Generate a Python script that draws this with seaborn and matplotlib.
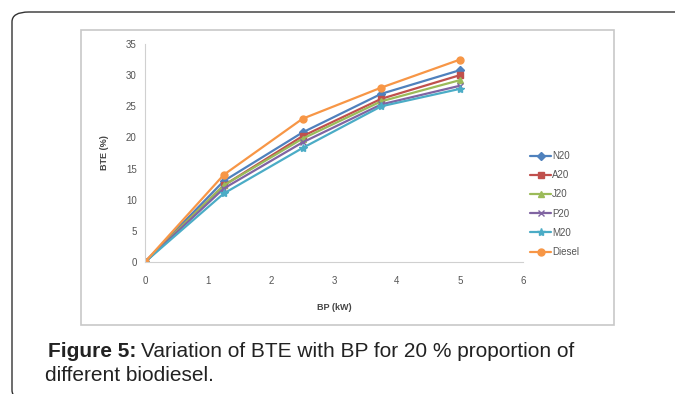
import pandas as pd
import numpy as np
import matplotlib
matplotlib.use("Agg")
import matplotlib.pyplot as plt
import seaborn as sns
from matplotlib.patches import FancyBboxPatch, Rectangle

# -------------------- Data --------------------
bp_kw = [0, 1.25, 2.5, 3.75, 5]
n20 = [0, 13.0, 20.8, 27.0, 30.8]
a20 = [0, 12.3, 20.2, 26.2, 30.0]
j20 = [0, 12.3, 19.8, 25.8, 29.2]
p20 = [0, 11.8, 19.2, 25.3, 28.3]
m20 = [0, 11.0, 18.3, 25.0, 27.8]
diesel = [0, 14.0, 23.0, 28.0, 32.5]

series_names = ["N20", "A20", "J20", "P20", "M20", "Diesel"]
series_values = [n20, a20, j20, p20, m20, diesel]
colors = ["#4F81BD", "#C0504D", "#9BBB59", "#8064A2", "#4BACC6", "#F79646"]
markers = ["D", "s", "^", "x", "*", "o"]
marker_sizes = [4, 4, 5, 5, 6, 5]

df = pd.concat(
    [pd.DataFrame({"BP": bp_kw, "BTE": vals, "fuel": name})
     for name, vals in zip(series_names, series_values)],
    ignore_index=True,
)

# -------------------- Plot --------------------
sns.set_style("white")
plt.rcParams["font.family"] = ["Liberation Sans", "DejaVu Sans"]

fig = plt.figure(figsize=(6.75, 3.94), dpi=100)

# outer rounded frame (runs off the right and bottom edges) and chart box
fig.patches.append(FancyBboxPatch((12 / 675, 1 - 400 / 394), 680 / 675, 388 / 394,
                                  boxstyle="round,pad=0,rounding_size=0.025",
                                  transform=fig.transFigure, fill=False,
                                  edgecolor="#333333", linewidth=1.0))
fig.patches.append(Rectangle((81 / 675, 1 - 325 / 394), 533 / 675, 295 / 394,
                             transform=fig.transFigure, fill=False,
                             edgecolor="#c8c8c8", linewidth=1.2))

ax = fig.add_axes([145 / 675, 1 - 262 / 394, 378 / 675, 218 / 394])

for name, color, marker, ms in zip(series_names, colors, markers, marker_sizes):
    sub = df[df["fuel"] == name]
    sns.lineplot(data=sub, x="BP", y="BTE", ax=ax, color=color, marker=marker,
                 markersize=ms, markeredgecolor=color, markeredgewidth=1.0,
                 linewidth=1.6, label=name)

ax.set_xlim(0, 6)
ax.set_ylim(0, 35)
ax.set_xticks(range(0, 7))
ax.set_yticks(range(0, 36, 5))
ax.tick_params(axis="y", labelsize=7, colors="#555555", length=0, pad=6)
ax.tick_params(axis="x", labelsize=7, colors="#555555", length=0, pad=10)
for s in ["top", "right"]:
    ax.spines[s].set_visible(False)
for s in ["left", "bottom"]:
    ax.spines[s].set_color("#d0d0d0")
    ax.spines[s].set_linewidth(0.8)
ax.set_xlabel("BP (kW)", fontsize=6.5, fontweight="bold", color="#444444", labelpad=12)
ax.set_ylabel("BTE (%)", fontsize=6.5, fontweight="bold", color="#444444", labelpad=12)

handles, labels = ax.get_legend_handles_labels()
ax.get_legend().remove()
fig.legend(handles, labels, loc="center left", bbox_to_anchor=(0.772, 1 - 204 / 394),
           frameon=False, fontsize=7, handlelength=2.2, handletextpad=0.1,
           labelspacing=0.95, labelcolor="#555555")

# caption
t1 = fig.text(48 / 675, 1 - 357 / 394, "Figure 5:", fontsize=15, fontweight="bold",
              color="#222222", va="baseline")
fig.canvas.draw()
bb = t1.get_window_extent(renderer=fig.canvas.get_renderer())
fig.text((bb.x1 + 5) / 675, 1 - 357 / 394,
         "Variation of BTE with BP for 20 % proportion of",
         fontsize=15, color="#222222", va="baseline")
fig.text(45 / 675, 1 - 381 / 394, "different biodiesel.", fontsize=15,
         color="#222222", va="baseline")

plt.savefig("out.png", dpi=100)
plt.close()
